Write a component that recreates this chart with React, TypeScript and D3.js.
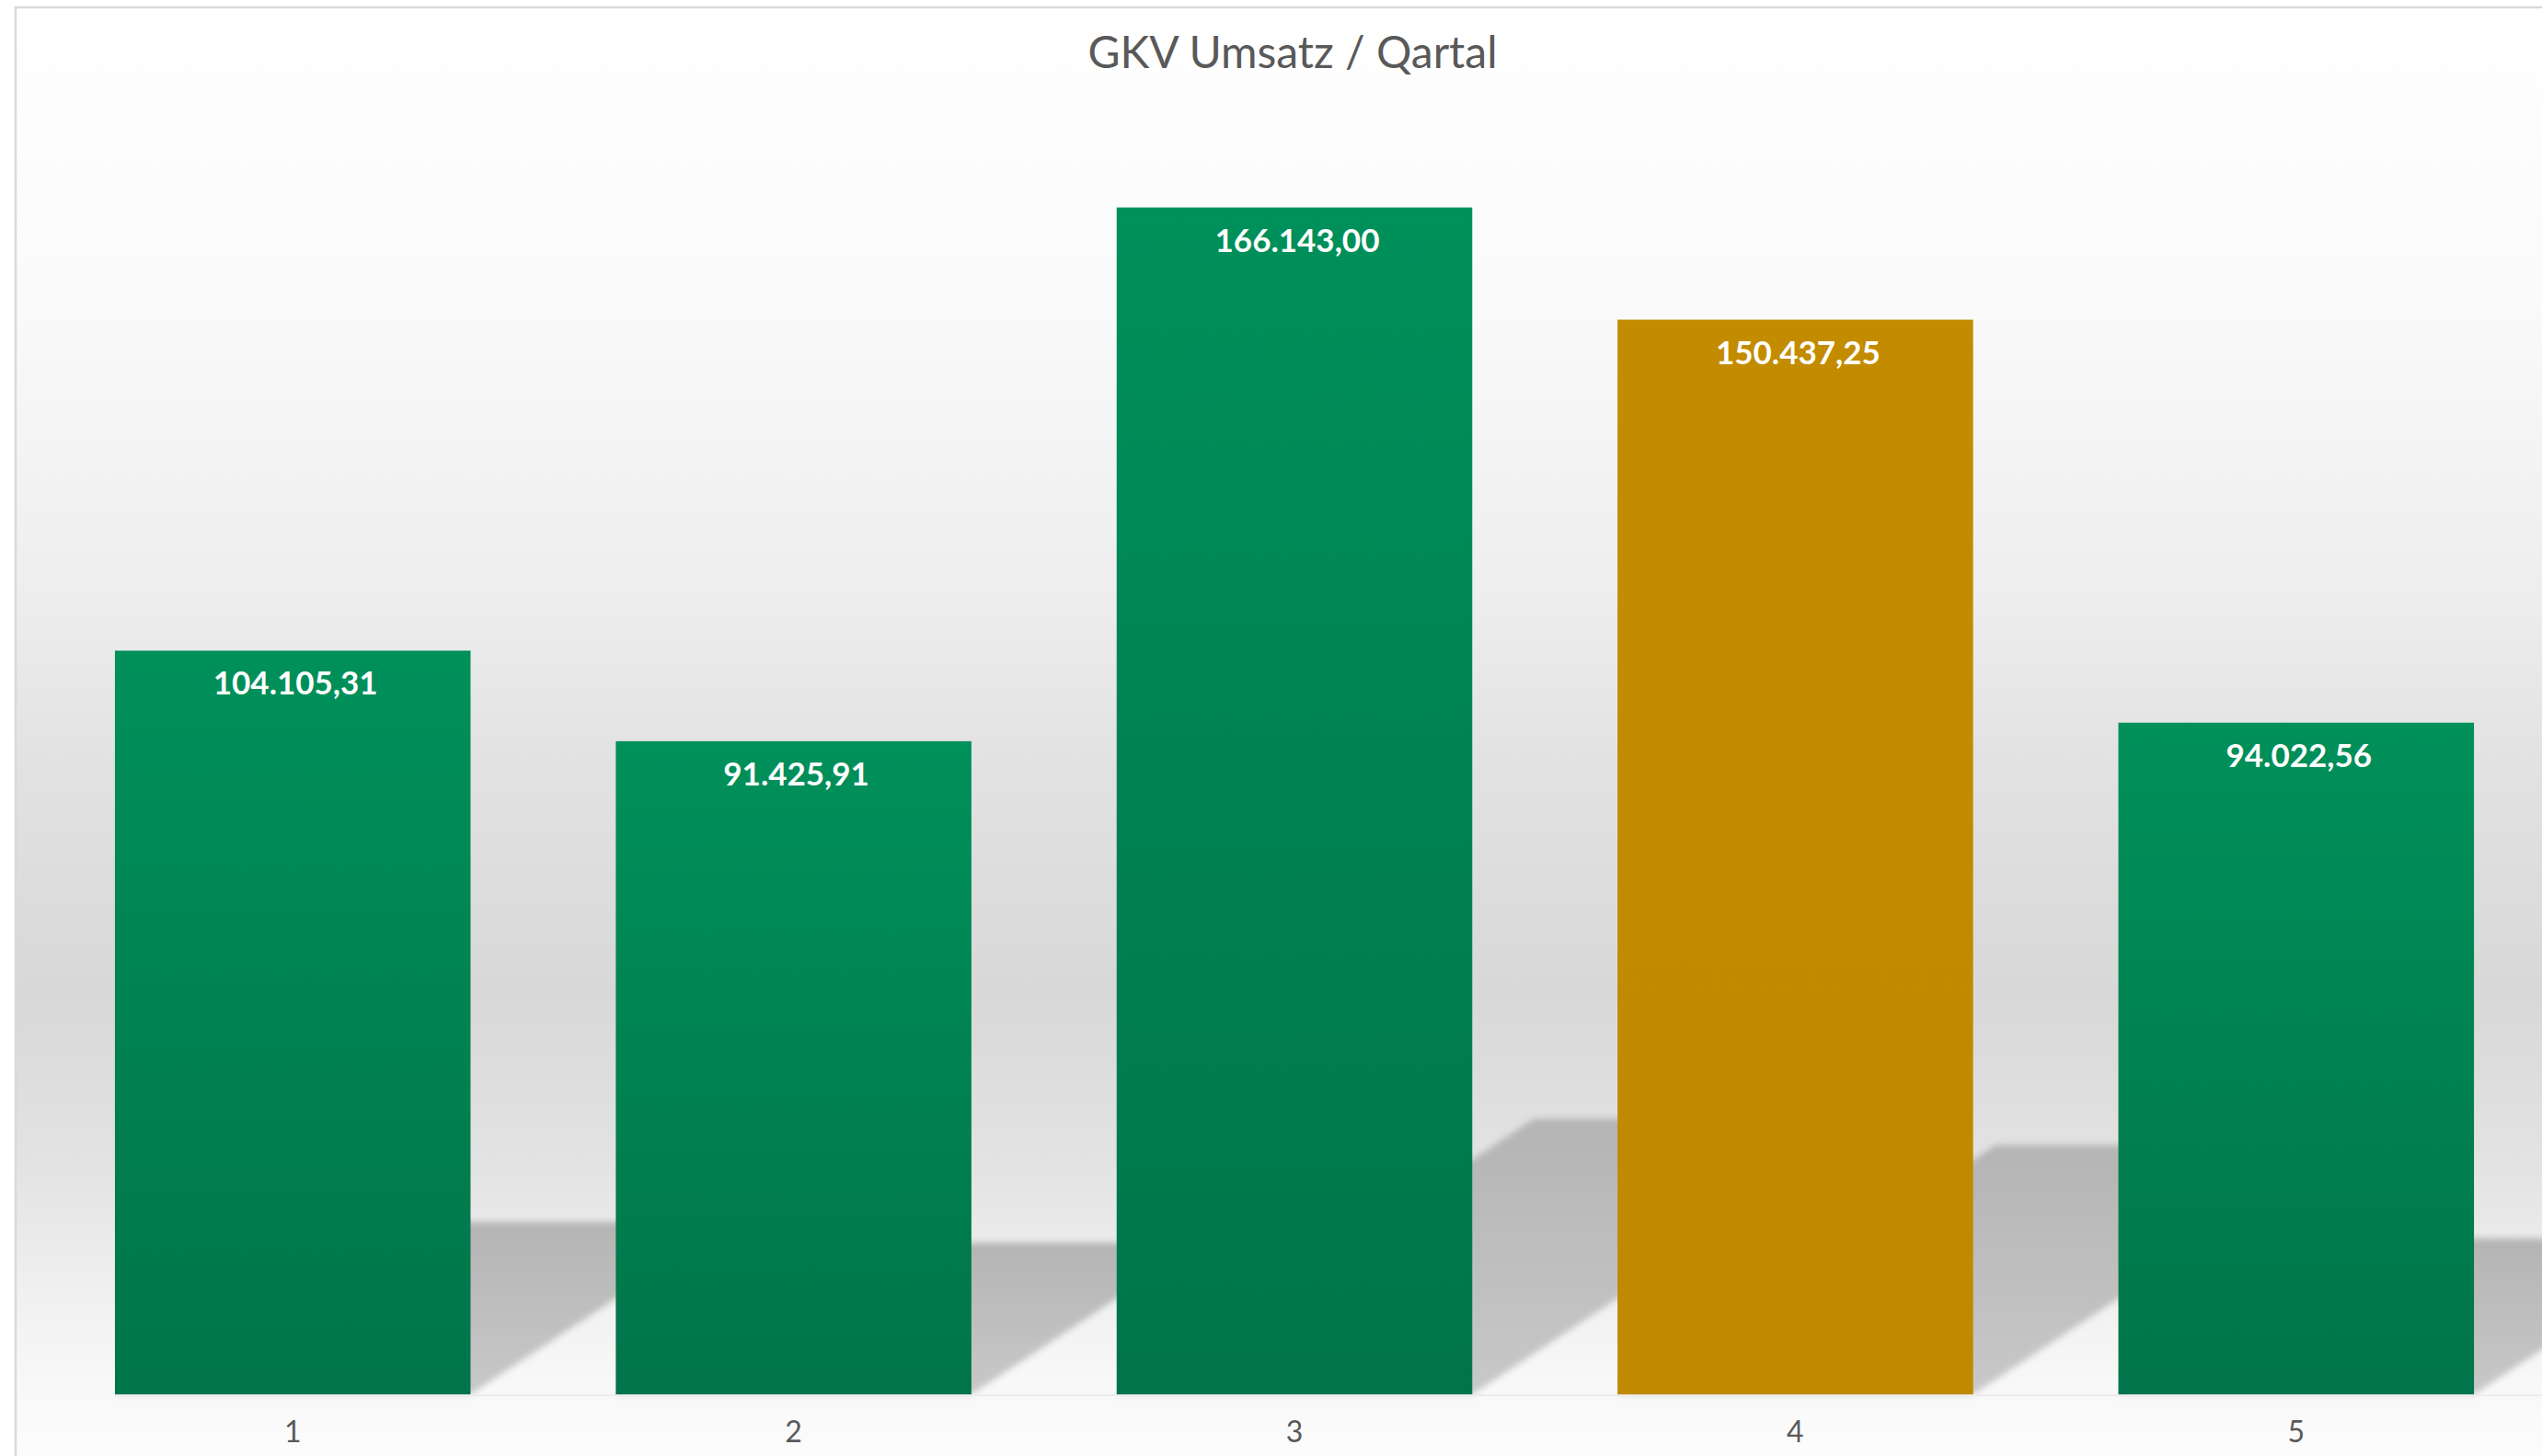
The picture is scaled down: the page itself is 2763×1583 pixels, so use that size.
import React from "react";
import * as d3 from "d3";

const categories = ["1", "2", "3", "4", "5"];
const values = [104105.31, 91425.91, 166143.0, 150437.25, 94022.56];
const labels = ["104.105,31", "91.425,91", "166.143,00", "150.437,25", "94.022,56"];
const highlight = [false, false, false, true, false];
const title = "GKV Umsatz / Qartal";

const W = 2763;
const H = 1583;

export default function App() {
  const baseY = 1516;
  const x = d3
    .scaleBand<string>()
    .domain(categories)
    .range([46, 2768])
    .paddingInner(0.29)
    .paddingOuter(0.145);
  const y = d3.scaleLinear().domain([0, 180000]).range([baseY, baseY - 180000 / 128.75]);

  const shadowRatio = 0.232;
  const slope = 0.66;

  return (
    <svg
      width={W}
      height={H}
      style={{ position: "absolute", left: 0, top: 0, fontFamily: "Lato, 'Open Sans', sans-serif" }}
    >
      <defs>
        <linearGradient id="bg" gradientUnits="userSpaceOnUse" x1="0" y1="8" x2="0" y2="1583">
          <stop offset="0" stopColor="#ffffff" />
          <stop offset="0.2" stopColor="#fafafa" />
          <stop offset="0.4" stopColor="#eeeeee" />
          <stop offset="0.52" stopColor="#e2e2e2" />
          <stop offset="0.68" stopColor="#d8d8d8" />
          <stop offset="0.8" stopColor="#e3e3e3" />
          <stop offset="0.88" stopColor="#efefef" />
          <stop offset="0.95" stopColor="#f8f8f8" />
          <stop offset="1" stopColor="#fcfcfc" />
        </linearGradient>
        <linearGradient id="green" x1="0" y1="0" x2="0" y2="1">
          <stop offset="0" stopColor="#00905a" />
          <stop offset="1" stopColor="#00744a" />
        </linearGradient>
        <linearGradient id="gold" x1="0" y1="0" x2="0" y2="1">
          <stop offset="0" stopColor="#c38c00" />
          <stop offset="1" stopColor="#bf8900" />
        </linearGradient>
        <linearGradient id="shadow" x1="0" y1="0" x2="0" y2="1">
          <stop offset="0" stopColor="#b4b4b4" />
          <stop offset="1" stopColor="#c8c8c8" />
        </linearGradient>
        <filter id="blur" x="-10%" y="-10%" width="120%" height="120%">
          <feGaussianBlur stdDeviation="3.5" />
        </filter>
      </defs>

      <rect x={17} y={8} width={W + 20} height={H + 20} fill="url(#bg)" stroke="#d9d9d9" strokeWidth={2.5} />

      <text x={1405} y={74} textAnchor="middle" fontSize={48} fill="#595959">
        {title}
      </text>

      {/* perspective shadows */}
      <g filter="url(#blur)">
        {categories.map((c, i) => {
          const x0 = x(c)!;
          const x1 = x0 + x.bandwidth();
          const h = baseY - y(values[i]);
          const dy = h * shadowRatio;
          const dx = dy / slope;
          const pts = [
            [x0, baseY],
            [x1, baseY],
            [x1 + dx, baseY - dy],
            [x0 + dx, baseY - dy],
          ];
          return (
            <polygon
              key={"s" + c}
              points={pts.map((p) => p.join(",")).join(" ")}
              fill="url(#shadow)"
            />
          );
        })}
      </g>

      <line x1={x(categories[0])!} x2={W} y1={baseY + 1} y2={baseY + 1} stroke="#ececec" strokeWidth={2} />

      {categories.map((c, i) => (
        <rect
          key={"b" + c}
          x={x(c)!}
          y={y(values[i])}
          width={x.bandwidth()}
          height={baseY - y(values[i])}
          fill={highlight[i] ? "url(#gold)" : "url(#green)"}
        />
      ))}

      {categories.map((c, i) => (
        <text
          key={"l" + c}
          x={x(c)! + x.bandwidth() / 2 + 3}
          y={y(values[i]) + 48}
          textAnchor="middle"
          fontSize={35}
          fontWeight="bold"
          fill="#ffffff"
        >
          {labels[i]}
        </text>
      ))}

      {categories.map((c) => (
        <text
          key={"x" + c}
          x={x(c)! + x.bandwidth() / 2}
          y={1568}
          textAnchor="middle"
          fontSize={32}
          fill="#595959"
        >
          {c}
        </text>
      ))}
    </svg>
  );
}
